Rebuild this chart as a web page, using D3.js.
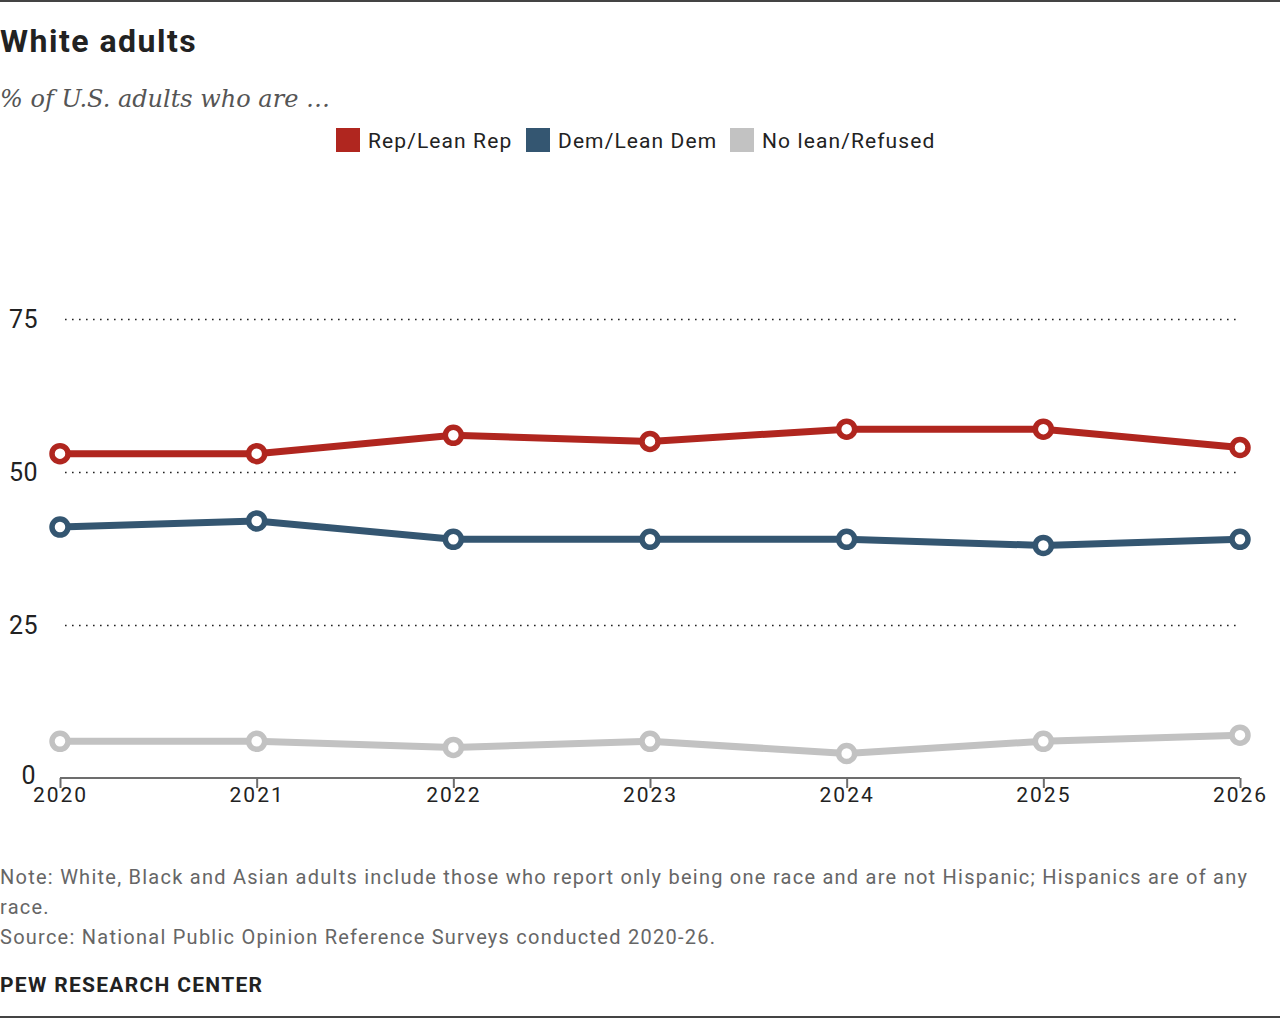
<!DOCTYPE html>
<html>
<head>
<meta charset="utf-8">
<script src="https://cdn.jsdelivr.net/npm/d3@7"></script>
<style>
  body { margin: 0; background: #fff; }
  svg { display: block; }
</style>
</head>
<body>
<div id="chart"></div>
<script>
var years = [2020, 2021, 2022, 2023, 2024, 2025, 2026];
var repValues = [53, 53, 56, 55, 57, 57, 54];
var demValues = [41, 42, 39, 39, 39, 38, 39];
var noLeanValues = [6, 6, 5, 6, 4, 6, 7];
var seriesNames = ["Rep/Lean Rep", "Dem/Lean Dem", "No lean/Refused"];
var seriesColors = ["#b0261f", "#345671", "#c2c2c2"];
var yTicks = [0, 25, 50, 75];

var width = 1280, height = 1018;
var font = "Roboto, 'Liberation Sans', sans-serif";

var svg = d3.select("#chart").append("svg")
    .attr("width", width)
    .attr("height", height);

// frame lines top and bottom
svg.append("rect").attr("x", 0).attr("y", 0).attr("width", width).attr("height", 2).attr("fill", "#444");
svg.append("rect").attr("x", 0).attr("y", height - 2).attr("width", width).attr("height", 2).attr("fill", "#444");

svg.append("text")
    .text("White adults")
    .attr("x", 0).attr("y", 52)
    .attr("font-family", font)
    .attr("font-weight", "bold")
    .attr("font-size", "32px")
    .attr("letter-spacing", "1.5px")
    .attr("fill", "#222");

svg.append("text")
    .text("% of U.S. adults who are …")
    .attr("x", 0).attr("y", 107)
    .attr("font-family", "Georgia, 'DejaVu Serif', serif")
    .attr("font-style", "italic")
    .attr("font-size", "24px")
    .attr("fill", "#555");

// legend
var legendX = [336, 526, 730];
seriesNames.forEach(function(name, i) {
    svg.append("rect")
        .attr("x", legendX[i]).attr("y", 128)
        .attr("width", 24).attr("height", 24)
        .attr("fill", seriesColors[i]);
    svg.append("text")
        .text(name)
        .attr("x", legendX[i] + 32).attr("y", 148)
        .attr("font-family", font)
        .attr("font-size", "21px")
        .attr("letter-spacing", "1.1px")
        .attr("fill", "#222");
});

var x = d3.scalePoint().domain(years).range([60, 1240]);
var y = d3.scaleLinear().domain([0, 75]).range([778, 319]);

// gridlines
yTicks.filter(function(t) { return t > 0; }).forEach(function(t) {
    svg.append("line")
        .attr("x1", 65).attr("x2", 1240)
        .attr("y1", y(t) + 0.5).attr("y2", y(t) + 0.5)
        .attr("stroke", "#222")
        .attr("stroke-width", 1.6)
        .attr("stroke-dasharray", "1.6,5.4");
});

// y labels
svg.selectAll(".ylab").data(yTicks).enter().append("text")
    .attr("class", "ylab")
    .text(function(d) { return d; })
    .attr("x", function(d) { return d === 0 ? 36 : 38; })
    .attr("y", function(d) { return d === 0 ? y(d) + 6 : y(d) + 9; })
    .attr("text-anchor", "end")
    .attr("font-family", font)
    .attr("font-size", "25px")
    .attr("letter-spacing", "0.5px")
    .attr("fill", "#222");

// x axis
var xAxis = svg.append("g")
    .attr("transform", "translate(0," + 778 + ")")
    .call(d3.axisBottom(x).tickSize(10).tickSizeOuter(0));
xAxis.select(".domain").attr("stroke", "#6d6d6d").attr("stroke-width", 2)
    .attr("d", "M60,0H1240");
xAxis.selectAll(".tick line").attr("stroke", "#6d6d6d").attr("stroke-width", 2).attr("y1", 0).attr("y2", 10);
xAxis.selectAll(".tick text")
    .attr("y", 9)
    .attr("font-family", font)
    .attr("font-size", "21px")
    .attr("letter-spacing", "2px")
    .attr("fill", "#222");

var seriesValues = [repValues, demValues, noLeanValues];
var line = d3.line()
    .x(function(d, i) { return x(years[i]); })
    .y(function(d) { return y(d); });

seriesValues.forEach(function(vals, s) {
    svg.append("path")
        .datum(vals)
        .attr("d", line)
        .attr("fill", "none")
        .attr("stroke", seriesColors[s])
        .attr("stroke-width", 7);
    svg.selectAll(".pt" + s).data(vals).enter().append("circle")
        .attr("class", "pt" + s)
        .attr("cx", function(d, i) { return x(years[i]); })
        .attr("cy", function(d) { return y(d); })
        .attr("r", 8)
        .attr("fill", "#fff")
        .attr("stroke", seriesColors[s])
        .attr("stroke-width", 5.5);
});

// notes
var notes = [
    "Note: White, Black and Asian adults include those who report only being one race and are not Hispanic; Hispanics are of any",
    "race.",
    "Source: National Public Opinion Reference Surveys conducted 2020-26."
];
notes.forEach(function(n, i) {
    svg.append("text")
        .text(n)
        .attr("x", 0).attr("y", 884 + i * 30)
        .attr("font-family", font)
        .attr("font-size", "20px")
        .attr("letter-spacing", "1.25px")
        .attr("fill", "#666");
});

svg.append("text")
    .text("PEW RESEARCH CENTER")
    .attr("x", 0).attr("y", 992)
    .attr("font-family", font)
    .attr("font-weight", "bold")
    .attr("font-size", "21px")
    .attr("letter-spacing", "1.3px")
    .attr("fill", "#222");
</script>
</body>
</html>
